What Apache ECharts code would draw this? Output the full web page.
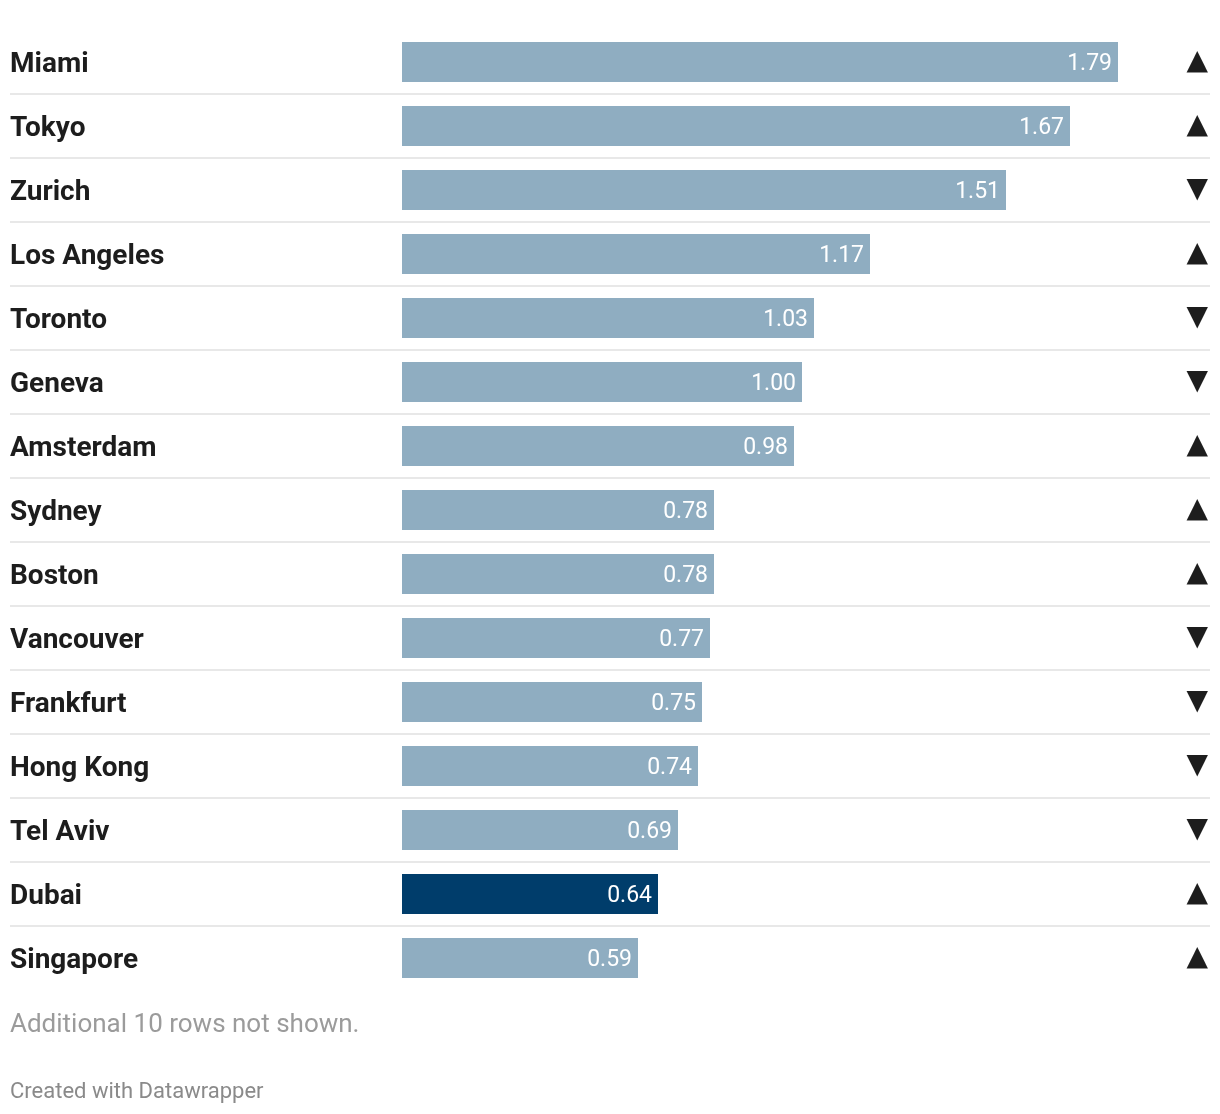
<!DOCTYPE html>
<html>
<head>
<meta charset="utf-8">
<script src="https://cdn.jsdelivr.net/npm/echarts@6/dist/echarts.min.js"></script>
<style>
html,body{margin:0;padding:0;background:#fff;}
#chart{width:1220px;height:1114px;}
</style>
</head>
<body>
<div id="chart"></div>
<script>
var cities = ["Miami","Tokyo","Zurich","Los Angeles","Toronto","Geneva","Amsterdam","Sydney","Boston","Vancouver","Frankfurt","Hong Kong","Tel Aviv","Dubai","Singapore"];
var values = [1.79,1.67,1.51,1.17,1.03,1.00,0.98,0.78,0.78,0.77,0.75,0.74,0.69,0.64,0.59];
var changes = ["up","up","down","up","down","down","up","up","up","down","down","down","down","up","up"];
var highlight = "Dubai";
var note = "Additional 10 rows not shown.";
var credit = "Created with Datawrapper";

var chart = echarts.init(document.getElementById('chart'), null, {renderer:'canvas'});
var font = 'Roboto, "Noto Sans", sans-serif';
chart.setOption({
  animation:false,
  backgroundColor:'#ffffff',
  title:[
    {text:note, left:5, top:1007, textStyle:{fontFamily:font, fontSize:26, fontWeight:'normal', color:'#9b9b9b'}},
    {text:credit, left:5, top:1076, textStyle:{fontFamily:font, fontSize:22, fontWeight:'normal', color:'#8a8a8a'}}
  ],
  grid:{left:10, right:10, top:30, height:960, containLabel:false},
  xAxis:{type:'value', min:-0.98, max:2.02, show:false},
  yAxis:[
    {type:'category', data:cities, inverse:true, position:'left',
     axisLine:{show:false}, axisTick:{show:false},
     axisLabel:{inside:true, align:'left', verticalAlign:'top', lineHeight:6, margin:0, fontFamily:font, fontSize:28, fontWeight:'bold', color:'#1d1d1d'},
     splitLine:{show:true, showMinLine:false, showMaxLine:false, lineStyle:{color:'#e8e8e8', width:2}}
    },
    {type:'category', data:changes, inverse:true, position:'right',
     axisLine:{show:false}, axisTick:{show:false},
     axisLabel:{inside:true, align:'right', margin:2, fontFamily:'"DejaVu Sans", sans-serif', fontSize:28, color:'#1d1d1d',
       formatter:function(v){return v==='up'?'▲':'▼';}},
     splitLine:{show:false}
    }
  ],
  series:[{
    type:'bar', yAxisIndex:0, barWidth:40,
    data:values.map(function(v,i){return {value:v, itemStyle:{color: cities[i]===highlight?'#003d6b':'#8fadc1'}};}),
    label:{show:true, position:'insideRight', distance:6, verticalAlign:'top', lineHeight:4, color:'#ffffff', fontFamily:font, fontSize:23,
      formatter:function(p){return p.value.toFixed(2);}}
  }]
});
</script>
</body>
</html>
